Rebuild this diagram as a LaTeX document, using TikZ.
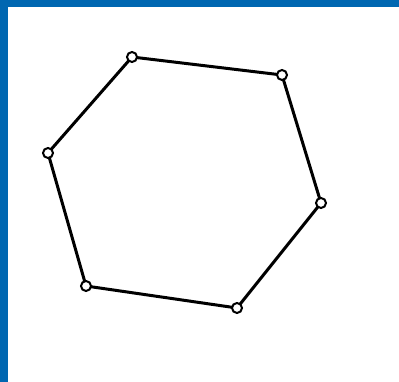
\documentclass[tikz,border=0pt]{standalone}
\definecolor{frameblue}{HTML}{0067B1}
\begin{document}
\begin{tikzpicture}[x=1pt,y=-1pt,
  vtx/.style={circle,draw=black,fill=white,line width=2pt,inner sep=0pt,minimum size=10pt},
  edge/.style={line width=3pt,black}]
\useasboundingbox (0,0) rectangle (399,382);
\fill[white] (0,0) rectangle (399,382);
\fill[frameblue] (0,0) rectangle (399,7.5);
\fill[frameblue] (0,0) rectangle (7.5,382);
\coordinate (a) at (132,57);
\coordinate (b) at (282,75);
\coordinate (c) at (321,203);
\coordinate (d) at (237,308);
\coordinate (e) at (86,286);
\coordinate (f) at (48,153);
\draw[edge,line join=round] (a) -- (b) -- (c) -- (d) -- (e) -- (f) -- cycle;
\foreach \p in {a,b,c,d,e,f} \node[vtx] (n\p) at (\p) {};
\end{tikzpicture}
\end{document}
